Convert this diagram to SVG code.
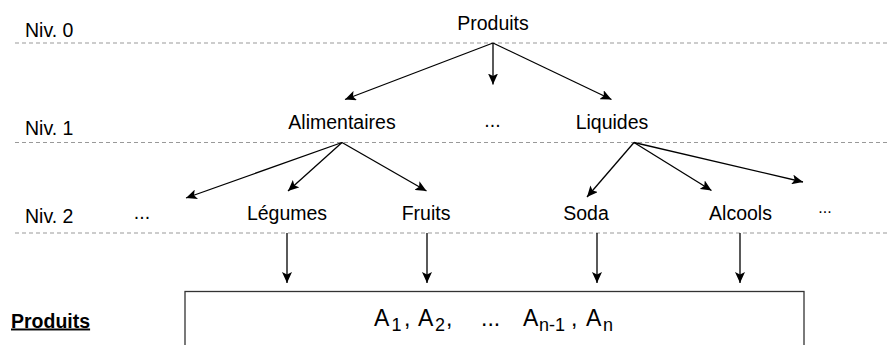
<svg xmlns="http://www.w3.org/2000/svg" width="890" height="345" viewBox="0 0 890 345">
  <defs>
    <marker id="arr" markerUnits="userSpaceOnUse" markerWidth="12" markerHeight="10" refX="11" refY="5" orient="auto">
      <path d="M0,0 L11,5 L0,10 L2.5,5 z" fill="#000"/>
    </marker>
  </defs>
  <style>
    text { font-family: "Liberation Sans", Arial, sans-serif; font-size: 19.5px; fill: #000; }
    .c { text-anchor: middle; }
    .dash { stroke: #999; stroke-width: 1; stroke-dasharray: 4 3; fill: none; }
    .edge { stroke: #000; stroke-width: 1.3; fill: none; marker-end: url(#arr); }
    .big { font-size: 23px; }
    .sub { font-size: 18px; }
  </style>
  <rect width="890" height="345" fill="#fff"/>

  <g id="levels">
    <line class="dash" x1="15" y1="43" x2="890" y2="43"/>
    <line class="dash" x1="15" y1="142.5" x2="890" y2="142.5"/>
    <line class="dash" x1="15" y1="233" x2="890" y2="233"/>
    <text x="25" y="36.5">Niv. 0</text>
    <text x="25" y="135">Niv. 1</text>
    <text x="25" y="223">Niv. 2</text>
  </g>

  <g id="connectors">
    <line class="edge" x1="493" y1="43" x2="345" y2="99.5"/>
    <line class="edge" x1="493" y1="43" x2="493" y2="84.5"/>
    <line class="edge" x1="493" y1="43" x2="611.5" y2="99.5"/>
    <line class="edge" x1="342" y1="142.5" x2="186" y2="198"/>
    <line class="edge" x1="342" y1="142.5" x2="288" y2="191"/>
    <line class="edge" x1="342" y1="142.5" x2="426.5" y2="191"/>
    <line class="edge" x1="634" y1="142.5" x2="587" y2="197"/>
    <line class="edge" x1="634" y1="142.5" x2="711.5" y2="190.5"/>
    <line class="edge" x1="634" y1="142.5" x2="803" y2="182"/>
    <line class="edge" x1="287" y1="233" x2="287" y2="283"/>
    <line class="edge" x1="427" y1="233" x2="427" y2="283"/>
    <line class="edge" x1="597" y1="233" x2="597" y2="283"/>
    <line class="edge" x1="740" y1="233" x2="740" y2="283"/>
  </g>

  <g id="produits"><text class="c" x="493" y="30">Produits</text></g>
  <g id="alimentaires"><text class="c" x="342" y="128.5">Alimentaires</text></g>
  <g id="dots1"><text class="c" x="492.5" y="127">...</text></g>
  <g id="liquides"><text class="c" x="612" y="128.5">Liquides</text></g>
  <g id="dots2left"><text class="c" x="142" y="219">...</text></g>
  <g id="legumes"><text class="c" x="287" y="219.5">Légumes</text></g>
  <g id="fruits"><text class="c" x="426" y="219.5">Fruits</text></g>
  <g id="soda"><text class="c" x="586" y="219.5">Soda</text></g>
  <g id="alcools"><text class="c" x="740.5" y="219.5">Alcools</text></g>
  <g id="dots2right"><text class="c" x="825" y="213" style="font-size:16px">...</text></g>

  <g id="table">
    <rect x="185" y="291.5" width="619" height="70" fill="none" stroke="#333" stroke-width="1.3"/>
    <text class="big" y="326"><tspan x="374">A</tspan><tspan class="sub" x="391.5" y="330.5">1</tspan><tspan x="404" y="326">,</tspan><tspan x="418">A</tspan><tspan class="sub" x="435" y="330.5">2</tspan><tspan x="446" y="326">,</tspan><tspan x="481">...</tspan><tspan x="523">A</tspan><tspan class="sub" x="539" y="330.5">n-1</tspan><tspan x="571" y="326">,</tspan><tspan x="586">A</tspan><tspan class="sub" x="603" y="330.5">n</tspan></text>
  </g>
  <g id="label-produits">
    <text x="11" y="327.5" style="font-weight:bold;text-decoration:underline">Produits</text>
  </g>
</svg>
